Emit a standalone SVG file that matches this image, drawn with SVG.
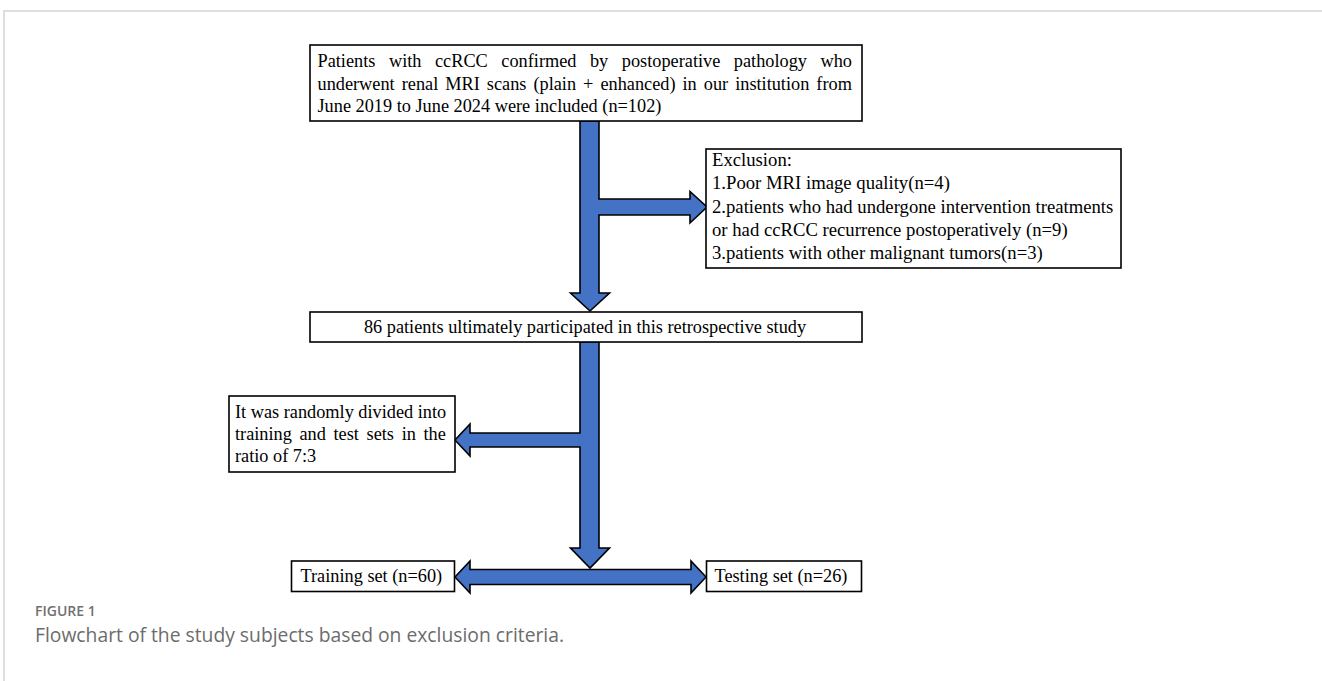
<svg xmlns="http://www.w3.org/2000/svg" width="1322" height="681" viewBox="0 0 1322 681">
<style>
.box{fill:#fff;stroke:#000;stroke-width:1.6}
.t{font-family:"Liberation Serif","Times New Roman",serif;font-size:18.3px;fill:#000}
.arrow{fill:#4472c4;stroke:#000;stroke-width:1.6;stroke-linejoin:miter}
.frame{stroke:#d4d4d4;stroke-width:1.5;fill:none}
.cap1{font-family:"Open Sans","Noto Sans",sans-serif;font-size:14px;font-weight:600;fill:#707070}
.cap2{font-family:"Open Sans","Noto Sans",sans-serif;font-size:19.3px;fill:#6c6c6c}
</style>
<path class="frame" d="M4,681 V11 H1322"/>
<g id="connectors">
<path class="arrow" d="M580,121 H599 V199 H690 V191.5 L707,207 L690,223 V215 H599 V293 H609.5 L590,311 L570.5,293 H580 Z"/>
<path class="arrow" d="M455,577 L470,561 V569.5 H691 V561 L706,577 L691,593 V584.5 H470 V593 Z"/>
<path class="arrow" d="M580,342 H599 V548 H609.5 L590,568 L570.5,548 H580 V447 H470 V456 L455,440 L470,424 V433 H580 Z"/>
</g>
<g id="node-included">
<rect class="box" x="310" y="45" width="552" height="76"/>
<text class="t" x="317.5" y="67" word-spacing="8.97">Patients with ccRCC confirmed by postoperative pathology who</text>
<text class="t" x="317.5" y="89.5" word-spacing="2.45">underwent renal MRI scans (plain + enhanced) in our institution from</text>
<text class="t" x="317.5" y="112">June 2019 to June 2024 were included (n=102)</text>
</g>
<g id="node-exclusion">
<rect class="box" x="706" y="149" width="415" height="119"/>
<text class="t" x="712" y="166" style="font-size:18.7px">Exclusion:</text>
<text class="t" x="712" y="189.3" style="font-size:18.7px">1.Poor MRI image quality(n=4)</text>
<text class="t" x="712" y="212.6" style="font-size:18.7px">2.patients who had undergone intervention treatments</text>
<text class="t" x="712" y="235.9" style="font-size:18.7px">or had ccRCC recurrence postoperatively (n=9)</text>
<text class="t" x="712" y="259.2" style="font-size:18.7px">3.patients with other malignant tumors(n=3)</text>
</g>
<g id="node-participants">
<rect class="box" x="310" y="312" width="552" height="30"/>
<text class="t" x="585" y="333" text-anchor="middle">86 patients ultimately participated in this retrospective study</text>
</g>
<g id="node-split">
<rect class="box" x="229" y="396" width="226" height="76"/>
<text class="t" x="235" y="418">It was randomly divided into</text>
<text class="t" x="235" y="440" word-spacing="3.07">training and test sets in the</text>
<text class="t" x="235" y="462">ratio of 7:3</text>
</g>
<g id="node-training">
<rect class="box" x="291.5" y="561" width="163" height="30.5"/>
<text class="t" x="300.5" y="582">Training set (n=60)</text>
</g>
<g id="node-testing">
<rect class="box" x="706.5" y="561" width="155" height="30.5"/>
<text class="t" x="714.5" y="582">Testing set (n=26)</text>
</g>
<text class="cap1" x="35" y="616">FIGURE 1</text>
<text class="cap2" x="35" y="642">Flowchart of the study subjects based on exclusion criteria.</text>
</svg>
